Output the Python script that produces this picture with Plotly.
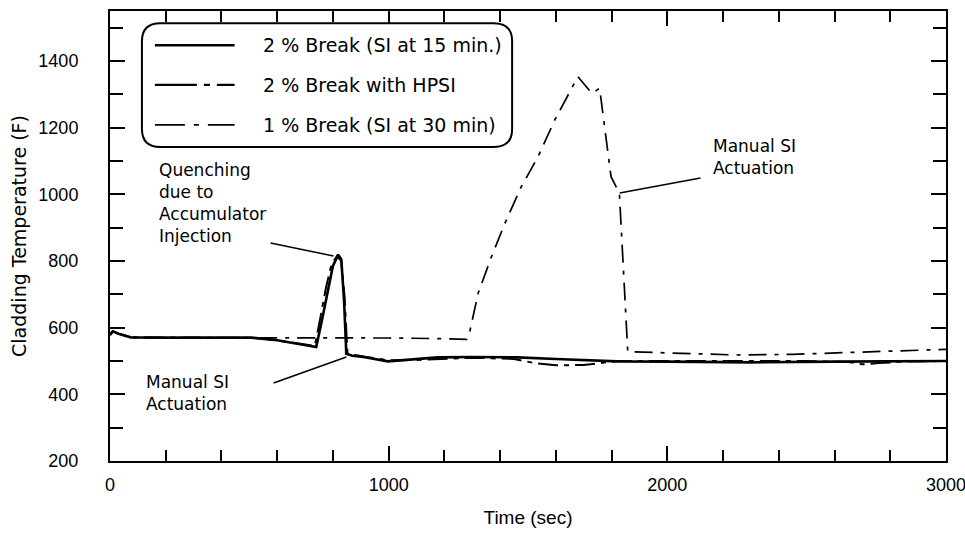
import plotly.graph_objects as go

# ---------------- data ----------------
t_si15 = [0, 10, 30, 75, 200, 400, 508, 600, 722, 740, 760, 780, 800, 819, 830,
          840, 848, 870, 915, 997, 1100, 1176, 1300, 1462, 1600, 1820, 2000, 2300,
          2600, 2900, 3000]
T_si15 = [578, 589, 582, 571, 570, 570, 570, 562, 544, 542, 620, 705, 785, 819, 805,
          680, 522, 516, 511, 499, 505, 511, 512, 511, 506, 499, 498, 496,
          498, 499, 500]

t_hpsi = [0, 10, 30, 75, 200, 400, 508, 600, 722, 735, 755, 775, 795, 815, 830,
          842, 852, 880, 920, 1000, 1100, 1300, 1450, 1522, 1600, 1700, 1820, 1950,
          2200, 2500, 2650, 2700, 2760, 2850, 3000]
T_hpsi = [578, 589, 582, 571, 570, 570, 570, 562, 545, 545, 630, 720, 790, 815, 800,
          690, 525, 518, 512, 502, 503, 510, 506, 494, 487, 488, 500, 500,
          500, 500, 497, 490, 494, 498, 500]

t_1pct = [0, 10, 30, 75, 200, 500, 800, 1000, 1200, 1280, 1291, 1321, 1369, 1417,
          1476, 1536, 1596, 1655, 1679, 1729, 1757, 1798, 1810, 1828, 1858, 1950,
          2100, 2250, 2450, 2650, 2850, 3000]
T_1pct = [578, 589, 582, 571, 570, 570, 570, 569, 567, 565, 588, 703, 813, 913,
          1023, 1113, 1223, 1313, 1353, 1303, 1318, 1053, 1033, 1003, 528, 526,
          522, 518, 520, 526, 532, 535]

series_names = ["2 % Break (SI at 15 min.)", "2 % Break with HPSI", "1 % Break (SI at 30 min)"]

x_range = [0, 3000]
y_range = [200, 1550]

FONT = "DejaVu Sans, Liberation Sans, Arial, sans-serif"
TICKFONT = "Liberation Sans Narrow, Arial Narrow, Liberation Sans, Arial, sans-serif"

fig = go.Figure()
fig.add_trace(go.Scatter(x=t_si15, y=T_si15, mode="lines", name=series_names[0],
                         line=dict(color="black", width=2.6), showlegend=False))
fig.add_trace(go.Scatter(x=t_hpsi, y=T_hpsi, mode="lines", name=series_names[1],
                         line=dict(color="black", width=2, dash="20px,6px,5px,6px"),
                         showlegend=False))
fig.add_trace(go.Scatter(x=t_1pct, y=T_1pct, mode="lines", name=series_names[2],
                         line=dict(color="black", width=1.7, dash="18px,8px,4px,8px"),
                         showlegend=False))

# ---------------- manual legend (rounded box) ----------------
x0, x1, y0, y1 = 0.0382, 0.4810, 0.698, 0.973
rx, ry = 0.022, 0.040
path = (f"M {x0+rx},{y1} L {x1-rx},{y1} Q {x1},{y1} {x1},{y1-ry} "
        f"L {x1},{y0+ry} Q {x1},{y0} {x1-rx},{y0} L {x0+rx},{y0} "
        f"Q {x0},{y0} {x0},{y0+ry} L {x0},{y1-ry} Q {x0},{y1} {x0+rx},{y1} Z")
shapes = [dict(type="path", path=path, xref="paper", yref="paper",
               line=dict(color="black", width=2), fillcolor="white", layer="above")]
leg_y = [0.924, 0.836, 0.747]
leg_dash = ["solid", "42px,7px,6px,7px", "30px,9px,5px,9px"]
leg_w = [2.6, 2.2, 1.8]
annotations = []
for i in range(3):
    shapes.append(dict(type="line", xref="paper", yref="paper", x0=0.0537, x1=0.149,
                       y0=leg_y[i], y1=leg_y[i],
                       line=dict(color="black", width=leg_w[i], dash=leg_dash[i]),
                       layer="above"))
    annotations.append(dict(text=series_names[i], xref="paper", yref="paper",
                            x=0.181, y=leg_y[i], xanchor="left", yanchor="middle",
                            showarrow=False, font=dict(family=FONT, size=19, color="black")))

# ---------------- callouts ----------------
def txt(s, x, y):
    annotations.append(dict(text=s, x=x, y=y, xref="x", yref="y", xanchor="left",
                            yanchor="middle", align="left", showarrow=False,
                            font=dict(family=FONT, size=17, color="black")))

txt("Quenching<br>due to<br>Accumulator<br>Injection", 168, 975)
txt("Manual SI<br>Actuation", 122, 404)
txt("Manual SI<br>Actuation", 2155, 1113)

for (a, b, c, d) in [(576, 854, 802, 815), (587, 434, 848, 512), (2119, 1049, 1829, 1004)]:
    shapes.append(dict(type="line", xref="x", yref="y", x0=a, y0=b, x1=c, y1=d,
                       line=dict(color="black", width=1.5)))

fig.update_layout(
    width=965, height=534,
    margin=dict(l=110, r=19, t=11, b=73),
    paper_bgcolor="white", plot_bgcolor="white",
    showlegend=False,
    shapes=shapes, annotations=annotations,
)
fig.update_xaxes(
    range=x_range, showgrid=False, zeroline=False, automargin=False,
    showline=True, linecolor="black", linewidth=2, mirror="allticks",
    ticks="inside", tickcolor="black", tickwidth=1.5, ticklen=15,
    tick0=0, dtick=1000, ticklabeloverflow="allow",
    minor=dict(ticks="inside", dtick=200, ticklen=11, tickcolor="black", tickwidth=1.5),
    tickfont=dict(family=TICKFONT, size=18, color="black"), ticklabelstandoff=6,
    title=dict(text="Time (sec)", font=dict(family=TICKFONT, size=19, color="black"), standoff=17),
)
fig.update_yaxes(
    range=y_range, showgrid=False, zeroline=False, automargin=False,
    showline=True, linecolor="black", linewidth=2, mirror="allticks",
    ticks="inside", tickcolor="black", tickwidth=1.5, ticklen=15,
    tick0=200, dtick=200, ticklabeloverflow="allow",
    minor=dict(ticks="inside", dtick=100, ticklen=13, tickcolor="black", tickwidth=1.5),
    tickfont=dict(family=TICKFONT, size=18, color="black"), ticklabelstandoff=26,
    title=dict(text="Cladding Temperature (F)", font=dict(family=FONT, size=19, color="black"), standoff=7),
)

fig.write_html("out.html", config={"displayModeBar": False},
               post_script="document.body.style.margin='0';document.body.style.overflow='hidden';")
